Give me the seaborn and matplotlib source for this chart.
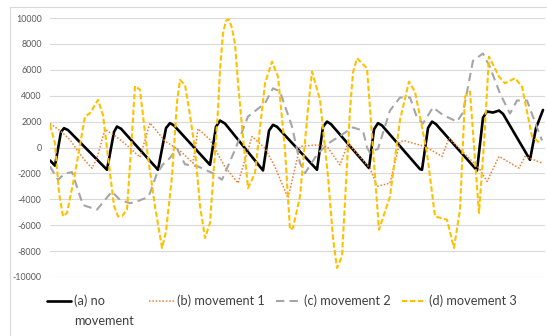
import numpy as np
import matplotlib
matplotlib.use("Agg")
import matplotlib.pyplot as plt
import seaborn as sns
import pandas as pd
from matplotlib.patches import Rectangle

# (sample index, value) pairs
pts_a = [(0, -1000), (5, -1400), (11, 1200), (14, 1490), (18, 1350), (57, -1720), (64, 1200),
         (67, 1620), (71, 1450), (108, -1720), (116, 1500), (120, 1880), (124, 1700),
         (160, -1340), (166, 1600), (170, 2080), (175, 1850), (213, -1770), (219, 1300),
         (223, 1750), (227, 1600), (267, -1720), (273, 1600), (277, 2000), (281, 1800),
         (319, -1590), (324, 1400), (328, 1880), (332, 1700), (370, -1670), (372, -1720),
         (378, 1500), (382, 2000), (386, 1800), (427, -1770), (433, 2300), (437, 2780),
         (443, 2700), (449, 2850), (453, 2600), (480, -950), (486, 1500), (493, 2900)]

pts_b = [(0, 1850), (10, 1300), (20, 600), (28, -300), (35, -1000), (42, -1600), (47, -800),
         (55, 1400), (65, 900), (75, 300), (90, -750), (100, 1900), (115, 500), (130, -250),
         (143, -1200), (148, 1450), (160, 600), (175, -1500), (188, -2750), (202, 850),
         (215, -50), (225, -1500), (238, -3900), (250, 80), (267, 200), (277, 80),
         (290, -1340), (298, 330), (320, -1590), (327, -3000), (340, -2750), (350, 460),
         (355, 510), (375, 80), (392, -690), (399, 720), (429, -1590), (437, -2620),
         (449, -690), (469, -1590), (475, -690), (492, -1200)]

pts_c = [(0, -1460), (8, -2500), (15, -2000), (22, -1900), (33, -4450), (47, -4800),
         (57, -3860), (62, -3400), (70, -4050), (80, -4300), (87, -4160), (97, -3860),
         (100, -3520), (107, -2000), (113, -1300), (120, -800), (127, -100), (135, -1300),
         (148, -1460), (163, -2000), (172, -2490), (185, -180), (198, 2390), (215, 3420),
         (223, 4570), (230, 4320), (242, 1620), (250, -1200), (255, -1980), (268, -440),
         (280, 400), (303, 1550), (313, 1300), (317, 0), (320, -400), (328, -100),
         (340, 2860), (350, 3860), (360, 3860), (367, 2300), (373, 1850), (383, 3100),
         (393, 2500), (407, 2000), (413, 2700), (423, 6700), (433, 7260), (440, 6200),
         (450, 4170), (460, 2620), (467, 3630), (477, 3630), (487, 1540), (492, 540)]

pts_d = [(0, 1750), (5, 330), (9, -3500), (13, -5320), (17, -5060), (25, -2000), (35, 2390),
         (40, 2650), (48, 3680), (53, 2500), (58, -690), (64, -4500), (68, -5320),
         (72, -5300), (77, -4800), (82, 1000), (85, 4750), (90, 4450), (97, -180),
         (105, -4550), (112, -7760), (116, -6500), (122, -2240), (127, 3500), (130, 5220),
         (135, 4830), (140, 2500), (145, -180), (150, -4500), (155, -6990), (160, -5830),
         (168, 2900), (170, 6000), (173, 8800), (176, 9800), (179, 9900), (182, 9200),
         (185, 8000), (188, 5000), (192, 1620), (198, -3140), (205, -1980), (215, 4960),
         (222, 6630), (228, 5470), (235, -180), (240, -6350), (243, -6220), (250, -3780),
         (258, 3000), (262, 5860), (270, 3680), (278, -2240), (283, -7000), (287, -9300),
         (292, -8400), (300, 2900), (303, 5800), (307, 6890), (317, 6120), (320, 3000),
         (323, -180), (329, -6350), (340, -3780), (350, 2130), (359, 5090), (365, 4300),
         (370, 2390), (377, -440), (385, -5320), (397, -5580), (404, -7760), (410, -4800),
         (415, 3930), (420, 4320), (425, -950), (429, -5060), (434, 330), (439, 7020),
         (449, 5470), (455, 4960), (465, 5350), (472, 4700), (482, 850), (490, 330)]

labels = ["(a) no", "(b) movement 1", "(c) movement 2", "(d) movement 3"]
colors = ["#000000", "#ED7D31", "#A5A5A5", "#FFC000"]
yticks = list(range(-10000, 10001, 2000))

sns.set_theme(style="white")
plt.rcParams["font.family"] = ["Lato", "DejaVu Sans"]

fig = plt.figure(figsize=(5.47, 3.36), dpi=100)
fig.patches.append(Rectangle((10 / 547, -0.1), 1.2, 1.079, transform=fig.transFigure,
                             fill=False, edgecolor="#D9D9D9", linewidth=0.8))
ax = fig.add_axes([50 / 547, 59 / 336, 495 / 547, 259 / 336])

styles = [dict(lw=1.9, ls="-"),
          dict(lw=1.1, ls=(0, (1, 1.2))),
          dict(lw=1.5, ls=(0, (4, 2.5))),
          dict(lw=1.5, ls=(0, (2.6, 1.2)))]
for pts, lab, col, st in zip([pts_a, pts_b, pts_c, pts_d], labels, colors, styles):
    df = pd.DataFrame(pts, columns=["t", "v"])
    sns.lineplot(data=df, x="t", y="v", ax=ax, color=col, label=lab,
                 linewidth=st["lw"], linestyle=st["ls"], sort=False)

ax.set_xlim(0, 495)
ax.set_ylim(-10000, 10000)
ax.set_yticks(yticks)
ax.set_yticklabels([str(y) for y in yticks], fontsize=6.4, color="#595959")
ax.tick_params(axis="y", length=0, pad=6)
ax.set_xticks([])
ax.set_xlabel("")
ax.set_ylabel("")
ax.grid(axis="y", color="#D9D9D9", linewidth=0.8)
for s in ax.spines.values():
    s.set_visible(False)

h, l = ax.get_legend_handles_labels()
ax.get_legend().remove()
l[0] = "(a) no" + " " * 10
leg = fig.legend(h, l, loc="center left", bbox_to_anchor=(47 / 547, 1 - 301 / 336),
                 ncol=4, frameon=False, fontsize=9.2, handlelength=1.9,
                 handletextpad=0.25, columnspacing=0.9, borderpad=0, borderaxespad=0)
for txt in leg.get_texts():
    txt.set_color("#404040")

fig.canvas.draw()
bb = leg.get_texts()[0].get_window_extent()
fig.text(bb.x0 / fig.bbox.width, 1 - 321 / 336, "movement", fontsize=9.2,
         color="#404040", va="center", ha="left")

fig.savefig("out.png", dpi=100)
